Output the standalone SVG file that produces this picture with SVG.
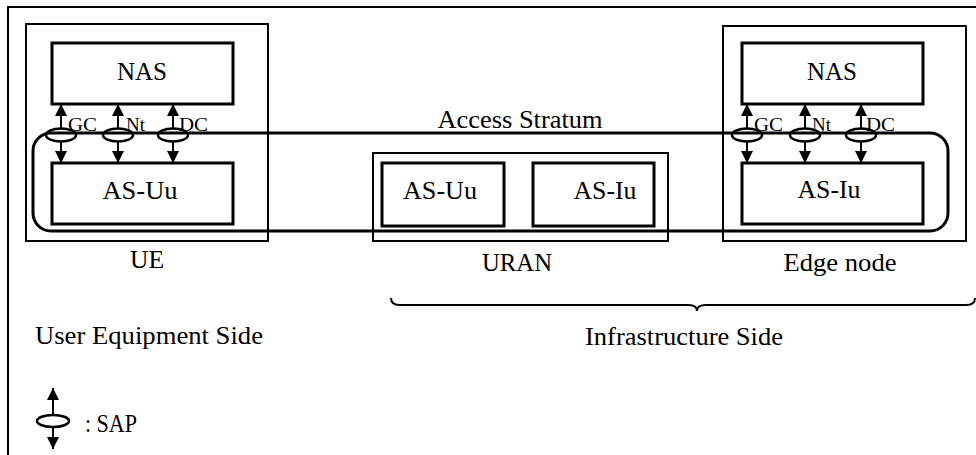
<svg xmlns="http://www.w3.org/2000/svg" width="976" height="455" viewBox="0 0 976 455">
<style>
text{font-family:"Times New Roman","Liberation Serif",Tinos,"Noto Serif","DejaVu Serif",FreeSerif,serif;fill:#000}
.t{font-size:25px;text-anchor:middle}
.s{font-size:19px}
.thick{fill:none;stroke:#000;stroke-width:3}
.thin{fill:none;stroke:#000;stroke-width:2}
.ar{stroke:#000;stroke-width:2;fill:none}
.el{fill:none;stroke:#000;stroke-width:2.5}
</style>
<defs>
<marker id="ah" viewBox="0 0 12 12" refX="12" refY="6" markerWidth="12" markerHeight="12" markerUnits="userSpaceOnUse" orient="auto">
<path d="M0,0 L12,6 L0,12 Z" fill="#000"/>
</marker>
<g id="sap">
<line class="ar" x1="0" y1="-7" x2="0" y2="-31" marker-end="url(#ah)"/>
<line class="ar" x1="0" y1="7" x2="0" y2="28" marker-end="url(#ah)"/>
<ellipse class="el" cx="0" cy="0" rx="15" ry="6.5"/>
</g>
</defs>
<rect width="976" height="455" fill="#fff"/>
<path d="M8,455 V7 H976" fill="none" stroke="#000" stroke-width="2"/>

<g id="access-stratum">
<rect x="33" y="133" width="915" height="98" rx="18" class="thick"/>
<text class="t" x="520" y="128" textLength="165" lengthAdjust="spacingAndGlyphs">Access Stratum</text>
</g>

<g id="ue">
<rect x="26" y="24" width="242" height="217" class="thin"/>
<text class="t" x="147" y="268" textLength="34" lengthAdjust="spacingAndGlyphs">UE</text>
</g>
<g id="ue-nas">
<rect x="52" y="43" width="181" height="61" class="thick"/>
<text class="t" x="142" y="80" textLength="50" lengthAdjust="spacingAndGlyphs">NAS</text>
</g>
<g id="ue-asuu">
<rect x="52" y="163" width="181" height="61" class="thick"/>
<text class="t" x="140" y="199" textLength="75" lengthAdjust="spacingAndGlyphs">AS-Uu</text>
</g>

<g id="uran">
<rect x="373" y="153" width="295" height="88" class="thin"/>
<text class="t" x="517" y="271" textLength="70" lengthAdjust="spacingAndGlyphs">URAN</text>
</g>
<g id="uran-asuu">
<rect x="382" y="163" width="122" height="63" class="thick"/>
<text class="t" x="440" y="199" textLength="74" lengthAdjust="spacingAndGlyphs">AS-Uu</text>
</g>
<g id="uran-asiu">
<rect x="533" y="163" width="121" height="63" class="thick"/>
<text class="t" x="605" y="199" textLength="63" lengthAdjust="spacingAndGlyphs">AS-Iu</text>
</g>

<g id="edge">
<rect x="723" y="26" width="243" height="215" class="thin"/>
<text class="t" x="840" y="271" textLength="113" lengthAdjust="spacingAndGlyphs">Edge node</text>
</g>
<g id="edge-nas">
<rect x="742" y="43" width="181" height="61" class="thick"/>
<text class="t" x="832" y="80" textLength="50" lengthAdjust="spacingAndGlyphs">NAS</text>
</g>
<g id="edge-asiu">
<rect x="742" y="163" width="181" height="61" class="thick"/>
<text class="t" x="829" y="198" textLength="63" lengthAdjust="spacingAndGlyphs">AS-Iu</text>
</g>

<g id="connectors">
<use href="#sap" x="61" y="135"/>
<use href="#sap" x="118" y="135"/>
<use href="#sap" x="173" y="135"/>
<use href="#sap" x="747" y="135"/>
<use href="#sap" x="805" y="135"/>
<use href="#sap" x="861" y="135"/>
<path d="M391,298 Q391,305 400,305 H688 Q697,305 697,311 Q697,305 706,305 H966 Q975,305 975,298" fill="none" stroke="#000" stroke-width="2"/>
</g>
<g id="sap-labels">
<text class="s" x="68" y="131" textLength="29" lengthAdjust="spacingAndGlyphs">GC</text>
<text class="s" x="126" y="131">Nt</text>
<text class="s" x="179" y="131" textLength="29" lengthAdjust="spacingAndGlyphs">DC</text>
<text class="s" x="754" y="131" textLength="29" lengthAdjust="spacingAndGlyphs">GC</text>
<text class="s" x="812" y="131">Nt</text>
<text class="s" x="866" y="131" textLength="29" lengthAdjust="spacingAndGlyphs">DC</text>
</g>

<text x="35" y="344" style="font-size:25px" textLength="228" lengthAdjust="spacingAndGlyphs">User Equipment Side</text>
<text x="585" y="345" style="font-size:25px" textLength="198" lengthAdjust="spacingAndGlyphs">Infrastructure Side</text>

<g id="legend">
<line class="ar" x1="53" y1="415" x2="53" y2="388" marker-end="url(#ah)"/>
<line class="ar" x1="53" y1="427" x2="53" y2="449" marker-end="url(#ah)"/>
<ellipse class="el" cx="53" cy="421" rx="16" ry="6"/>
<text x="85" y="432" style="font-size:25px" textLength="52" lengthAdjust="spacingAndGlyphs">: SAP</text>
</g>
</svg>
